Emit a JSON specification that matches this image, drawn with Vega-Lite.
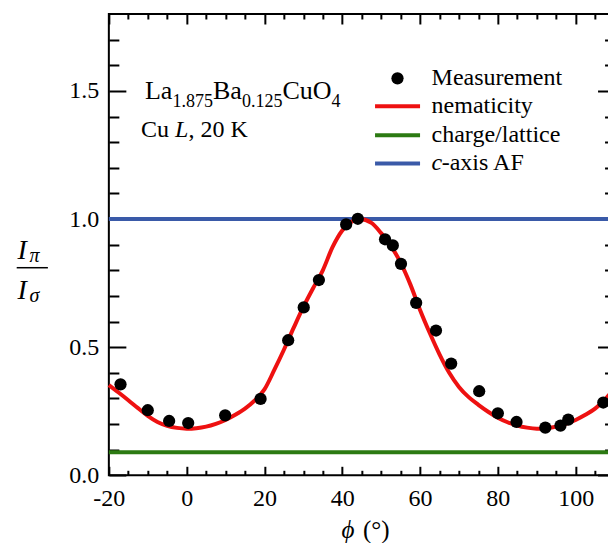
{
  "$schema": "https://vega.github.io/schema/vega-lite/v6.json",
  "width": 505.7,
  "height": 461.3,
  "autosize": {"type": "none"},
  "padding": {"left": 108.85, "top": 14, "right": -6.55, "bottom": 67.7},
  "background": "white",
  "config": {
    "font": "Liberation Serif",
    "view": {"stroke": "black", "strokeWidth": 2},
    "axis": {
      "grid": false,
      "domain": false,
      "labelFont": "Liberation Serif",
      "labelFontSize": 24,
      "labelColor": "black",
      "labelOverlap": false,
      "labelFlush": false,
      "tickColor": "black",
      "tickWidth": 2,
      "titleFont": "Liberation Serif",
      "titleFontWeight": "normal",
      "titleColor": "black"
    }
  },
  "datasets": {
    "measured": [
      {"phi": -17, "ratio": 0.355, "series": "Measurement"},
      {"phi": -10, "ratio": 0.254, "series": "Measurement"},
      {"phi": -4.5, "ratio": 0.212, "series": "Measurement"},
      {"phi": 0.4, "ratio": 0.204, "series": "Measurement"},
      {"phi": 9.9, "ratio": 0.234, "series": "Measurement"},
      {"phi": 19, "ratio": 0.298, "series": "Measurement"},
      {"phi": 26.1, "ratio": 0.527, "series": "Measurement"},
      {"phi": 30.1, "ratio": 0.655, "series": "Measurement"},
      {"phi": 34, "ratio": 0.762, "series": "Measurement"},
      {"phi": 41, "ratio": 0.979, "series": "Measurement"},
      {"phi": 44, "ratio": 1.001, "series": "Measurement"},
      {"phi": 51, "ratio": 0.921, "series": "Measurement"},
      {"phi": 53, "ratio": 0.897, "series": "Measurement"},
      {"phi": 55.1, "ratio": 0.825, "series": "Measurement"},
      {"phi": 59, "ratio": 0.673, "series": "Measurement"},
      {"phi": 64.1, "ratio": 0.565, "series": "Measurement"},
      {"phi": 68, "ratio": 0.436, "series": "Measurement"},
      {"phi": 75.2, "ratio": 0.328, "series": "Measurement"},
      {"phi": 80, "ratio": 0.242, "series": "Measurement"},
      {"phi": 84.8, "ratio": 0.208, "series": "Measurement"},
      {"phi": 92.2, "ratio": 0.186, "series": "Measurement"},
      {"phi": 96.1, "ratio": 0.194, "series": "Measurement"},
      {"phi": 98.1, "ratio": 0.217, "series": "Measurement"},
      {"phi": 107.1, "ratio": 0.284, "series": "Measurement"}
    ],
    "model": [
      {"phi": -20, "ratio": 0.352, "series": "nematicity"},
      {"phi": -17.5, "ratio": 0.323, "series": "nematicity"},
      {"phi": -15, "ratio": 0.293, "series": "nematicity"},
      {"phi": -12.5, "ratio": 0.262, "series": "nematicity"},
      {"phi": -10, "ratio": 0.232, "series": "nematicity"},
      {"phi": -7.5, "ratio": 0.208, "series": "nematicity"},
      {"phi": -5, "ratio": 0.193, "series": "nematicity"},
      {"phi": -2.5, "ratio": 0.185, "series": "nematicity"},
      {"phi": 0, "ratio": 0.182, "series": "nematicity"},
      {"phi": 2.5, "ratio": 0.184, "series": "nematicity"},
      {"phi": 5, "ratio": 0.19, "series": "nematicity"},
      {"phi": 7.5, "ratio": 0.201, "series": "nematicity"},
      {"phi": 10, "ratio": 0.216, "series": "nematicity"},
      {"phi": 12.5, "ratio": 0.236, "series": "nematicity"},
      {"phi": 15, "ratio": 0.26, "series": "nematicity"},
      {"phi": 17.5, "ratio": 0.292, "series": "nematicity"},
      {"phi": 20, "ratio": 0.335, "series": "nematicity"},
      {"phi": 22.5, "ratio": 0.41, "series": "nematicity"},
      {"phi": 25, "ratio": 0.49, "series": "nematicity"},
      {"phi": 27.5, "ratio": 0.575, "series": "nematicity"},
      {"phi": 30, "ratio": 0.657, "series": "nematicity"},
      {"phi": 32.5, "ratio": 0.73, "series": "nematicity"},
      {"phi": 35, "ratio": 0.8, "series": "nematicity"},
      {"phi": 37.5, "ratio": 0.89, "series": "nematicity"},
      {"phi": 40, "ratio": 0.955, "series": "nematicity"},
      {"phi": 42.5, "ratio": 0.99, "series": "nematicity"},
      {"phi": 44.5, "ratio": 1.0, "series": "nematicity"},
      {"phi": 47.5, "ratio": 0.985, "series": "nematicity"},
      {"phi": 50, "ratio": 0.945, "series": "nematicity"},
      {"phi": 52.5, "ratio": 0.895, "series": "nematicity"},
      {"phi": 55, "ratio": 0.83, "series": "nematicity"},
      {"phi": 57.5, "ratio": 0.745, "series": "nematicity"},
      {"phi": 60, "ratio": 0.645, "series": "nematicity"},
      {"phi": 62.5, "ratio": 0.555, "series": "nematicity"},
      {"phi": 65, "ratio": 0.472, "series": "nematicity"},
      {"phi": 67.5, "ratio": 0.4, "series": "nematicity"},
      {"phi": 70, "ratio": 0.345, "series": "nematicity"},
      {"phi": 72.5, "ratio": 0.305, "series": "nematicity"},
      {"phi": 75, "ratio": 0.275, "series": "nematicity"},
      {"phi": 77.5, "ratio": 0.248, "series": "nematicity"},
      {"phi": 80, "ratio": 0.225, "series": "nematicity"},
      {"phi": 82.5, "ratio": 0.207, "series": "nematicity"},
      {"phi": 85, "ratio": 0.194, "series": "nematicity"},
      {"phi": 87.5, "ratio": 0.186, "series": "nematicity"},
      {"phi": 90, "ratio": 0.182, "series": "nematicity"},
      {"phi": 92.5, "ratio": 0.184, "series": "nematicity"},
      {"phi": 95, "ratio": 0.19, "series": "nematicity"},
      {"phi": 97.5, "ratio": 0.201, "series": "nematicity"},
      {"phi": 100, "ratio": 0.216, "series": "nematicity"},
      {"phi": 102.5, "ratio": 0.236, "series": "nematicity"},
      {"phi": 105, "ratio": 0.26, "series": "nematicity"},
      {"phi": 107.5, "ratio": 0.295, "series": "nematicity"},
      {"phi": 110, "ratio": 0.34, "series": "nematicity"}
    ],
    "levels": [
      {"series": "charge/lattice", "ratio": 0.09},
      {"series": "c-axis AF", "ratio": 1.0}
    ],
    "keyDot": [
      {"series": "Measurement", "phi": 54.2, "ratio": 1.549}
    ],
    "keyLines": [
      {"series": "nematicity", "phi": 48.43, "phi2": 60.0, "ratio": 1.44},
      {"series": "charge/lattice", "phi": 48.43, "phi2": 60.0, "ratio": 1.327},
      {"series": "c-axis AF", "phi": 48.43, "phi2": 60.0, "ratio": 1.217}
    ],
    "keyText": [
      {"part": "upright", "phi": 62.96, "ratio": 1.522, "t": "Measurement"},
      {"part": "upright", "phi": 62.96, "ratio": 1.412, "t": "nematicity"},
      {"part": "upright", "phi": 62.96, "ratio": 1.299, "t": "charge/lattice"},
      {"part": "italic", "phi": 62.96, "ratio": 1.19, "t": "c"},
      {"part": "upright", "phi": 65.57, "ratio": 1.19, "t": "-axis AF"}
    ],
    "formula": [
      {"part": "main", "phi": -10.71, "ratio": 1.47, "t": "La"},
      {"part": "main", "phi": 6.77, "ratio": 1.47, "t": "Ba"},
      {"part": "main", "phi": 24.64, "ratio": 1.47, "t": "CuO"},
      {"part": "sub", "phi": -3.64, "ratio": 1.437, "t": "1.875"},
      {"part": "sub", "phi": 14.23, "ratio": 1.437, "t": "0.125"},
      {"part": "sub", "phi": 37.24, "ratio": 1.437, "t": "4"}
    ],
    "edgeNote": [
      {"part": "upright", "phi": -11.74, "ratio": 1.319, "t": "Cu"},
      {"part": "italic", "phi": -2.99, "ratio": 1.319, "t": "L"},
      {"part": "upright", "phi": 0.48, "ratio": 1.319, "t": ", 20 K"}
    ],
    "xtitle": [
      {"part": "italic", "phi": 39.83, "ratio": -0.246, "t": "ϕ"},
      {"part": "upright", "phi": 45.33, "ratio": -0.246, "t": "(°)"}
    ],
    "ytitle": [
      {"part": "main", "phi": -43.51, "ratio": 0.844, "t": "I"},
      {"part": "main", "phi": -43.51, "ratio": 0.688, "t": "I"},
      {"part": "sub", "phi": -40.4, "ratio": 0.831, "t": "π"},
      {"part": "sub", "phi": -40.4, "ratio": 0.675, "t": "σ"}
    ],
    "fractionBar": [
      {"phi": -43.69, "phi2": -35.67, "ratio": 0.81}
    ]
  },
  "resolve": {"axis": {"x": "independent", "y": "independent"}},
  "layer": [
    {
      "data": {"name": "levels"},
      "transform": [{"filter": "datum.series === 'charge/lattice'"}],
      "mark": {"type": "rule", "strokeWidth": 4},
      "encoding": {
        "y": {
          "field": "ratio", "type": "quantitative",
          "scale": {"domain": [0, 1.8], "nice": false, "zero": false},
          "axis": {"orient": "right", "values": [0, 0.5, 1, 1.5], "labels": false, "ticks": true, "tickSize": -17, "title": null}
        },
        "color": {
          "field": "series", "type": "nominal",
          "scale": {"domain": ["Measurement", "nematicity", "charge/lattice", "c-axis AF"], "range": ["black", "#ee1111", "#2c7a12", "#3a5aa8"]},
          "legend": null
        }
      }
    },
    {
      "data": {"name": "levels"},
      "transform": [{"filter": "datum.series === 'c-axis AF'"}],
      "mark": {"type": "rule", "strokeWidth": 4},
      "encoding": {
        "y": {
          "field": "ratio", "type": "quantitative",
          "scale": {"domain": [0, 1.8], "nice": false, "zero": false},
          "axis": {"orient": "right", "values": [0.1, 0.2, 0.3, 0.4, 0.6, 0.7, 0.8, 0.9, 1.1, 1.2, 1.3, 1.4, 1.6, 1.7], "labels": false, "ticks": true, "tickSize": -10, "title": null}
        },
        "color": {
          "field": "series", "type": "nominal",
          "scale": {"domain": ["Measurement", "nematicity", "charge/lattice", "c-axis AF"], "range": ["black", "#ee1111", "#2c7a12", "#3a5aa8"]},
          "legend": null
        }
      }
    },
    {
      "data": {"name": "model"},
      "mark": {"type": "line", "strokeWidth": 4, "interpolate": "monotone"},
      "encoding": {
        "x": {
          "field": "phi", "type": "quantitative",
          "scale": {"domain": [-20, 110], "nice": false, "zero": false},
          "axis": {"orient": "bottom", "values": [-20, 0, 20, 40, 60, 80, 100], "labels": false, "ticks": true, "tickSize": -9, "title": null}
        },
        "y": {
          "field": "ratio", "type": "quantitative",
          "scale": {"domain": [0, 1.8], "nice": false, "zero": false},
          "axis": {"orient": "left", "values": [0, 0.5, 1, 1.5], "labels": false, "ticks": true, "tickSize": -17, "title": null}
        },
        "color": {
          "field": "series", "type": "nominal",
          "scale": {"domain": ["Measurement", "nematicity", "charge/lattice", "c-axis AF"], "range": ["black", "#ee1111", "#2c7a12", "#3a5aa8"]},
          "legend": null
        }
      }
    },
    {
      "data": {"name": "measured"},
      "mark": {"type": "circle", "size": 150, "opacity": 1},
      "encoding": {
        "x": {
          "field": "phi", "type": "quantitative",
          "scale": {"domain": [-20, 110], "nice": false, "zero": false},
          "axis": {
            "orient": "bottom", "values": [-20, 0, 20, 40, 60, 80, 100], "format": "d",
            "labelExpr": "replace(datum.label, '\u2212', '-')",
            "ticks": false, "labelPadding": 11, "title": null
          }
        },
        "y": {
          "field": "ratio", "type": "quantitative",
          "scale": {"domain": [0, 1.8], "nice": false, "zero": false},
          "axis": {"orient": "left", "values": [0, 0.5, 1, 1.5], "format": ".1f", "ticks": false, "labelPadding": 10, "title": null}
        },
        "color": {
          "field": "series", "type": "nominal",
          "scale": {"domain": ["Measurement", "nematicity", "charge/lattice", "c-axis AF"], "range": ["black", "#ee1111", "#2c7a12", "#3a5aa8"]},
          "legend": null
        }
      }
    },
    {
      "data": {"name": "keyDot"},
      "mark": {"type": "circle", "size": 150, "opacity": 1},
      "encoding": {
        "x": {
          "field": "phi", "type": "quantitative",
          "scale": {"domain": [-20, 110], "nice": false, "zero": false},
          "axis": {"orient": "bottom", "values": [-15, -10, -5, 5, 10, 15, 25, 30, 35, 45, 50, 55, 65, 70, 75, 85, 90, 95, 105], "labels": false, "ticks": true, "tickSize": -5, "title": null}
        },
        "y": {
          "field": "ratio", "type": "quantitative",
          "scale": {"domain": [0, 1.8], "nice": false, "zero": false},
          "axis": {"orient": "left", "values": [0.1, 0.2, 0.3, 0.4, 0.6, 0.7, 0.8, 0.9, 1.1, 1.2, 1.3, 1.4, 1.6, 1.7], "labels": false, "ticks": true, "tickSize": -10, "title": null}
        },
        "color": {
          "field": "series", "type": "nominal",
          "scale": {"domain": ["Measurement", "nematicity", "charge/lattice", "c-axis AF"], "range": ["black", "#ee1111", "#2c7a12", "#3a5aa8"]},
          "legend": null
        }
      }
    },
    {
      "data": {"name": "keyLines"},
      "mark": {"type": "rule", "strokeWidth": 4},
      "encoding": {
        "x": {
          "field": "phi", "type": "quantitative",
          "scale": {"domain": [-20, 110], "nice": false, "zero": false},
          "axis": {"orient": "top", "values": [-20, 0, 20, 40, 60, 80, 100], "labels": false, "ticks": true, "tickSize": -10, "title": null}
        },
        "x2": {"field": "phi2"},
        "y": {
          "field": "ratio", "type": "quantitative",
          "scale": {"domain": [0, 1.8], "nice": false, "zero": false},
          "axis": null
        },
        "color": {
          "field": "series", "type": "nominal",
          "scale": {"domain": ["Measurement", "nematicity", "charge/lattice", "c-axis AF"], "range": ["black", "#ee1111", "#2c7a12", "#3a5aa8"]},
          "legend": null
        }
      }
    },
    {
      "data": {"name": "keyText"},
      "transform": [{"filter": "datum.part === 'upright'"}],
      "mark": {"type": "text", "align": "left", "baseline": "alphabetic", "fontSize": 24, "font": "Liberation Serif", "color": "black"},
      "encoding": {
        "x": {
          "field": "phi", "type": "quantitative",
          "scale": {"domain": [-20, 110], "nice": false, "zero": false},
          "axis": {"orient": "top", "values": [-15, -10, -5, 5, 10, 15, 25, 30, 35, 45, 50, 55, 65, 70, 75, 85, 90, 95, 105], "labels": false, "ticks": true, "tickSize": -5, "title": null}
        },
        "y": {"field": "ratio", "type": "quantitative", "scale": {"domain": [0, 1.8], "nice": false, "zero": false}, "axis": null},
        "text": {"field": "t"}
      }
    },
    {
      "data": {"name": "keyText"},
      "transform": [{"filter": "datum.part === 'italic'"}],
      "mark": {"type": "text", "align": "left", "baseline": "alphabetic", "fontSize": 24, "fontStyle": "italic", "font": "Liberation Serif", "color": "black"},
      "encoding": {
        "x": {"field": "phi", "type": "quantitative", "scale": {"domain": [-20, 110], "nice": false, "zero": false}, "axis": null},
        "y": {"field": "ratio", "type": "quantitative", "scale": {"domain": [0, 1.8], "nice": false, "zero": false}, "axis": null},
        "text": {"field": "t"}
      }
    },
    {
      "data": {"name": "formula"},
      "transform": [{"filter": "datum.part === 'main'"}],
      "mark": {"type": "text", "align": "left", "baseline": "alphabetic", "fontSize": 26, "font": "Liberation Serif", "color": "black"},
      "encoding": {
        "x": {"field": "phi", "type": "quantitative", "scale": {"domain": [-20, 110], "nice": false, "zero": false}, "axis": null},
        "y": {"field": "ratio", "type": "quantitative", "scale": {"domain": [0, 1.8], "nice": false, "zero": false}, "axis": null},
        "text": {"field": "t"}
      }
    },
    {
      "data": {"name": "formula"},
      "transform": [{"filter": "datum.part === 'sub'"}],
      "mark": {"type": "text", "align": "left", "baseline": "alphabetic", "fontSize": 18, "font": "Liberation Serif", "color": "black"},
      "encoding": {
        "x": {"field": "phi", "type": "quantitative", "scale": {"domain": [-20, 110], "nice": false, "zero": false}, "axis": null},
        "y": {"field": "ratio", "type": "quantitative", "scale": {"domain": [0, 1.8], "nice": false, "zero": false}, "axis": null},
        "text": {"field": "t"}
      }
    },
    {
      "data": {"name": "edgeNote"},
      "transform": [{"filter": "datum.part === 'upright'"}],
      "mark": {"type": "text", "align": "left", "baseline": "alphabetic", "fontSize": 24, "font": "Liberation Serif", "color": "black"},
      "encoding": {
        "x": {"field": "phi", "type": "quantitative", "scale": {"domain": [-20, 110], "nice": false, "zero": false}, "axis": null},
        "y": {"field": "ratio", "type": "quantitative", "scale": {"domain": [0, 1.8], "nice": false, "zero": false}, "axis": null},
        "text": {"field": "t"}
      }
    },
    {
      "data": {"name": "edgeNote"},
      "transform": [{"filter": "datum.part === 'italic'"}],
      "mark": {"type": "text", "align": "left", "baseline": "alphabetic", "fontSize": 24, "fontStyle": "italic", "font": "Liberation Serif", "color": "black"},
      "encoding": {
        "x": {"field": "phi", "type": "quantitative", "scale": {"domain": [-20, 110], "nice": false, "zero": false}, "axis": null},
        "y": {"field": "ratio", "type": "quantitative", "scale": {"domain": [0, 1.8], "nice": false, "zero": false}, "axis": null},
        "text": {"field": "t"}
      }
    },
    {
      "data": {"name": "xtitle"},
      "transform": [{"filter": "datum.part === 'italic'"}],
      "mark": {"type": "text", "align": "left", "baseline": "alphabetic", "fontSize": 25, "fontStyle": "italic", "font": "Liberation Serif", "color": "black"},
      "encoding": {
        "x": {"field": "phi", "type": "quantitative", "scale": {"domain": [-20, 110], "nice": false, "zero": false}, "axis": null},
        "y": {"field": "ratio", "type": "quantitative", "scale": {"domain": [0, 1.8], "nice": false, "zero": false}, "axis": null},
        "text": {"field": "t"}
      }
    },
    {
      "data": {"name": "xtitle"},
      "transform": [{"filter": "datum.part === 'upright'"}],
      "mark": {"type": "text", "align": "left", "baseline": "alphabetic", "fontSize": 25, "font": "Liberation Serif", "color": "black"},
      "encoding": {
        "x": {"field": "phi", "type": "quantitative", "scale": {"domain": [-20, 110], "nice": false, "zero": false}, "axis": null},
        "y": {"field": "ratio", "type": "quantitative", "scale": {"domain": [0, 1.8], "nice": false, "zero": false}, "axis": null},
        "text": {"field": "t"}
      }
    },
    {
      "data": {"name": "ytitle"},
      "transform": [{"filter": "datum.part === 'main'"}],
      "mark": {"type": "text", "align": "left", "baseline": "alphabetic", "fontSize": 28, "fontStyle": "italic", "font": "Liberation Serif", "color": "black"},
      "encoding": {
        "x": {"field": "phi", "type": "quantitative", "scale": {"domain": [-20, 110], "nice": false, "zero": false}, "axis": null},
        "y": {"field": "ratio", "type": "quantitative", "scale": {"domain": [0, 1.8], "nice": false, "zero": false}, "axis": null},
        "text": {"field": "t"}
      }
    },
    {
      "data": {"name": "ytitle"},
      "transform": [{"filter": "datum.part === 'sub'"}],
      "mark": {"type": "text", "align": "left", "baseline": "alphabetic", "fontSize": 20, "fontStyle": "italic", "font": "Liberation Serif", "color": "black"},
      "encoding": {
        "x": {"field": "phi", "type": "quantitative", "scale": {"domain": [-20, 110], "nice": false, "zero": false}, "axis": null},
        "y": {"field": "ratio", "type": "quantitative", "scale": {"domain": [0, 1.8], "nice": false, "zero": false}, "axis": null},
        "text": {"field": "t"}
      }
    },
    {
      "data": {"name": "fractionBar"},
      "mark": {"type": "rule", "strokeWidth": 1.5, "color": "black"},
      "encoding": {
        "x": {"field": "phi", "type": "quantitative", "scale": {"domain": [-20, 110], "nice": false, "zero": false}, "axis": null},
        "x2": {"field": "phi2"},
        "y": {"field": "ratio", "type": "quantitative", "scale": {"domain": [0, 1.8], "nice": false, "zero": false}, "axis": null}
      }
    }
  ]
}
